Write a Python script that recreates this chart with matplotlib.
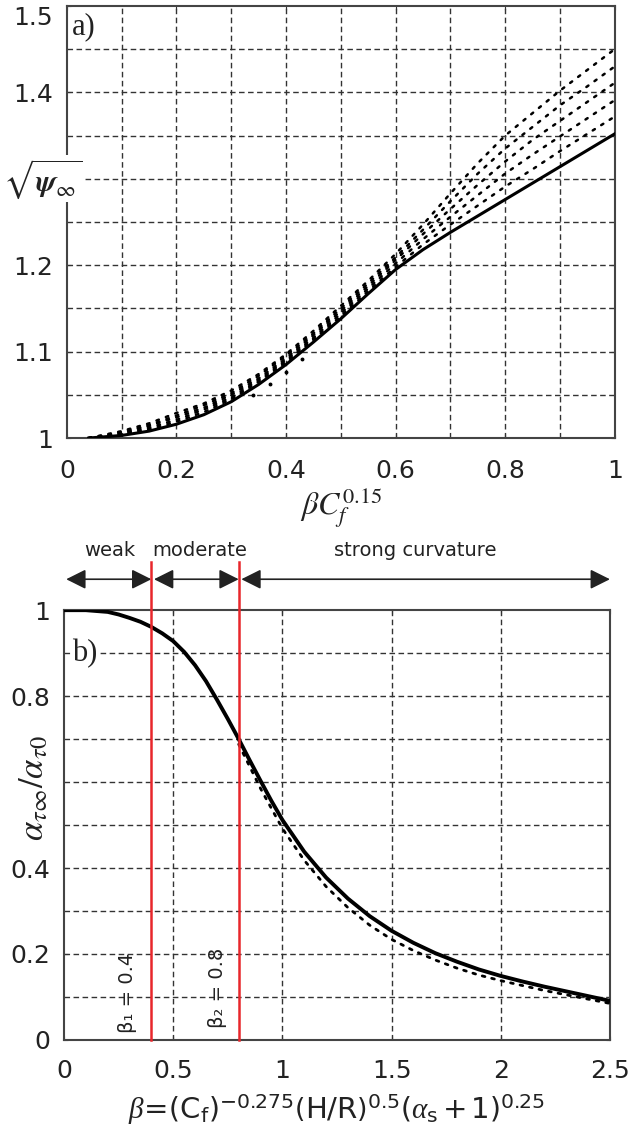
import matplotlib
matplotlib.use("Agg")
import matplotlib.pyplot as plt

plt.rcParams['font.family'] = ['DejaVu Sans']
plt.rcParams['mathtext.fontset'] = 'custom'
plt.rcParams['mathtext.rm'] = 'DejaVu Sans'
plt.rcParams['mathtext.sf'] = 'DejaVu Sans'
plt.rcParams['mathtext.it'] = 'Liberation Serif:italic'
plt.rcParams['mathtext.bf'] = 'Liberation Serif:bold:italic'

# --- panel a): sqrt(psi_inf) vs beta*Cf^0.15, family of dotted curves
a_x = [0.04, 0.1, 0.15, 0.2, 0.25, 0.3, 0.35, 0.4, 0.45, 0.5,
       0.55, 0.6, 0.65, 0.7, 0.75, 0.8, 0.85, 0.9, 0.95, 1.0]
psi_1 = [1.000, 1.003, 1.008, 1.016, 1.027, 1.042, 1.062, 1.085, 1.111, 1.138,
         1.167, 1.195, 1.218, 1.238, 1.257, 1.276, 1.295, 1.314, 1.333, 1.352]
psi_2 = [1.000, 1.004, 1.010, 1.019, 1.030, 1.045, 1.065, 1.088, 1.114, 1.141,
         1.170, 1.198, 1.224, 1.247, 1.269, 1.291, 1.311, 1.332, 1.352, 1.372]
psi_3 = [1.000, 1.005, 1.012, 1.021, 1.033, 1.047, 1.067, 1.090, 1.116, 1.144,
         1.173, 1.202, 1.230, 1.256, 1.281, 1.306, 1.328, 1.349, 1.370, 1.391]
psi_4 = [1.000, 1.006, 1.014, 1.024, 1.035, 1.050, 1.069, 1.092, 1.119, 1.147,
         1.176, 1.206, 1.236, 1.265, 1.293, 1.320, 1.345, 1.367, 1.389, 1.411]
psi_5 = [1.000, 1.007, 1.015, 1.026, 1.038, 1.052, 1.072, 1.095, 1.121, 1.150,
         1.179, 1.209, 1.241, 1.274, 1.306, 1.335, 1.360, 1.385, 1.407, 1.430]
psi_6 = [1.000, 1.008, 1.017, 1.029, 1.040, 1.055, 1.074, 1.097, 1.124, 1.153,
         1.182, 1.213, 1.247, 1.283, 1.318, 1.350, 1.376, 1.402, 1.426, 1.450]
psi_family = [psi_2, psi_3, psi_4, psi_5, psi_6]
stray_x = [0.34, 0.37, 0.40, 0.43]
stray_y = [1.050, 1.062, 1.076, 1.092]

a_xticks = [0, 0.2, 0.4, 0.6, 0.8, 1]
a_xticklabels = ['0', '0.2', '0.4', '0.6', '0.8', '1']
a_yticks = [1, 1.1, 1.2, 1.4, 1.5]
a_yticklabels = ['1', '1.1', '1.2', '1.4', '1.5']

# --- panel b): alpha_tau_inf / alpha_tau0 vs beta
b_x = [0, 0.1, 0.2, 0.25, 0.3, 0.35, 0.4, 0.45, 0.5, 0.55, 0.6, 0.65, 0.7, 0.75,
       0.8, 0.85, 0.9, 0.95, 1.0, 1.1, 1.2, 1.3, 1.4, 1.5, 1.6, 1.7, 1.8, 1.9,
       2.0, 2.1, 2.2, 2.3, 2.4, 2.5]
ratio_main = [1.0, 1.0, 0.996, 0.99, 0.982, 0.973, 0.961, 0.946, 0.928, 0.903,
              0.872, 0.835, 0.792, 0.747, 0.700, 0.651, 0.603, 0.556, 0.512,
              0.438, 0.378, 0.329, 0.288, 0.254, 0.226, 0.202, 0.182, 0.164,
              0.149, 0.136, 0.124, 0.113, 0.102, 0.091]
low_x = [0.8, 0.9, 1.0, 1.1, 1.2, 1.3, 1.4, 1.5, 1.6, 1.7, 1.8, 1.9, 2.0, 2.2,
         2.4, 2.5]
ratio_low = [0.688, 0.585, 0.492, 0.418, 0.357, 0.308, 0.267, 0.234, 0.208,
             0.186, 0.167, 0.151, 0.138, 0.115, 0.095, 0.085]

beta_1 = 0.4
beta_2 = 0.8
regimes = ['weak', 'moderate', 'strong curvature']
regime_edges = [0.0, beta_1, beta_2, 2.5]

b_xticks = [0, 0.5, 1, 1.5, 2, 2.5]
b_xticklabels = ['0', '0.5', '1', '1.5', '2', '2.5']
b_yticks = [0, 0.2, 0.4, 0.8, 1]
b_yticklabels = ['0', '0.2', '0.4', '0.8', '1']

txt = '#222222'
grid_kw = dict(color='#333333', linestyle=(0, (4, 2.5)), linewidth=1.0)

fig = plt.figure(figsize=(6.37, 11.31), dpi=100)

# ---------------------------------- a) ----------------------------------
ax1 = fig.add_axes([0.105, 0.6127, 0.860, 0.382])
for x in [0.1 * i for i in range(1, 10)]:
    ax1.axvline(x, zorder=0, **grid_kw)
for y in [1 + 0.05 * i for i in range(1, 10)]:
    ax1.axhline(y, zorder=0, **grid_kw)

ax1.plot(a_x, psi_1, color='k', lw=2.2, zorder=3)
for psi in psi_family:
    ax1.plot(a_x, psi, color='k', lw=1.8, linestyle=(0, (1, 3)),
             dash_capstyle='round', zorder=3)
ax1.plot(stray_x, stray_y, linestyle='none', marker='o', ms=1.8, color='k', zorder=3)

ax1.set_xlim(0, 1)
ax1.set_ylim(1, 1.5)
ax1.set_xticks(a_xticks)
ax1.set_xticklabels(a_xticklabels)
ax1.set_yticks(a_yticks)
ax1.set_yticklabels(a_yticklabels)
ax1.tick_params(axis='x', pad=15)
ax1.get_yticklabels()[-1].set_va('top')
ax1.text(0.5, -0.16, r'$\beta C_f^{0.15}$', transform=ax1.transAxes,
         ha='center', va='center', fontsize=23, color=txt, math_fontfamily='stix')
ax1.text(-0.044, 0.6, r'$\sqrt{\boldsymbol{\psi}_{\infty}}$', transform=ax1.transAxes,
         ha='center', va='center', fontsize=22, color=txt, math_fontfamily='stix',
         bbox=dict(facecolor='white', edgecolor='none', pad=1), zorder=5)
ax1.text(0.01, 0.985, 'a)', transform=ax1.transAxes, ha='left', va='top',
         fontsize=22, family='Liberation Serif', color=txt,
         bbox=dict(facecolor='white', edgecolor='none', pad=0))

# ---------------------------------- b) ----------------------------------
ax2 = fig.add_axes([0.1005, 0.0805, 0.857, 0.380])
for x in [0.5, 1.0, 1.5, 2.0]:
    ax2.axvline(x, zorder=0, **grid_kw)
for y in [0.1 * i for i in range(1, 10)]:
    ax2.axhline(y, zorder=0, **grid_kw)

ax2.plot(low_x, ratio_low, color='k', lw=2.0, linestyle=(0, (1, 2.5)),
         dash_capstyle='round', zorder=3)
ax2.plot(b_x, ratio_main, color='k', lw=2.8, zorder=3)

red = '#e8262b'
for b in [beta_1, beta_2]:
    ax2.plot([b, b], [0, 1.112], color=red, lw=1.8, clip_on=False, zorder=4)

# regime arrows and names above the axes
arrow_y = 1.072
for i, name in enumerate(regimes):
    x0 = regime_edges[i] + (0.01 if i == 0 else 0.012)
    x1 = regime_edges[i + 1]
    ax2.annotate('', xy=(x1, arrow_y), xytext=(x0, arrow_y), xycoords='data',
                 annotation_clip=False,
                 arrowprops=dict(arrowstyle='<|-|>,head_length=0.6,head_width=0.3',
                                 mutation_scale=20, color='#222222', lw=1.2,
                                 shrinkA=0, shrinkB=0))
name_x = [0.21, 0.62, 1.61]
for name, x in zip(regimes, name_x):
    ax2.text(x, 1.14, name, ha='center', va='center', fontsize=14, color=txt,
             clip_on=False)

ax2.text(0.293, 0.109, 'β₁ = 0.4', rotation=90, ha='center', va='center',
         fontsize=14, color=txt)
ax2.text(0.705, 0.121, 'β₂ = 0.8', rotation=90, ha='center', va='center',
         fontsize=14, color=txt)

ax2.set_xlim(0, 2.5)
ax2.set_ylim(0, 1)
ax2.set_xticks(b_xticks)
ax2.set_xticklabels(b_xticklabels)
ax2.set_yticks(b_yticks)
ax2.set_yticklabels(b_yticklabels)
ax2.tick_params(axis='x', pad=14)
ax2.text(0.5, -0.163,
         r'$\beta\!=\!\left(\mathrm{C}_{\mathrm{f}}\right)^{\mathrm{-0.275}}'
         r'\left(\mathrm{H/R}\right)^{\mathrm{0.5}}\left(\alpha_{\mathrm{s}}+\mathrm{1}\right)^{\mathrm{0.25}}$',
         transform=ax2.transAxes, ha='center', va='center', fontsize=21, color=txt)
ax2.text(-0.057, 0.586, r'$\alpha_{\tau\infty}/\alpha_{\tau 0}$', rotation=90,
         transform=ax2.transAxes, ha='center', va='center', fontsize=25, color=txt,
         math_fontfamily='stix')
ax2.text(0.015, 0.9, 'b)', transform=ax2.transAxes, ha='left', va='center',
         fontsize=22, family='Liberation Serif', color=txt,
         bbox=dict(facecolor='white', edgecolor='none', pad=0), zorder=5)

for ax in (ax1, ax2):
    ax.tick_params(direction='in', length=3, labelsize=18, top=True, right=True,
                   colors='#333333', labelcolor=txt)
    ax.tick_params(axis='y', pad=10)
    for s in ax.spines.values():
        s.set_color('#444444')
        s.set_linewidth(1.5)

fig.savefig('out.png', dpi=100)
